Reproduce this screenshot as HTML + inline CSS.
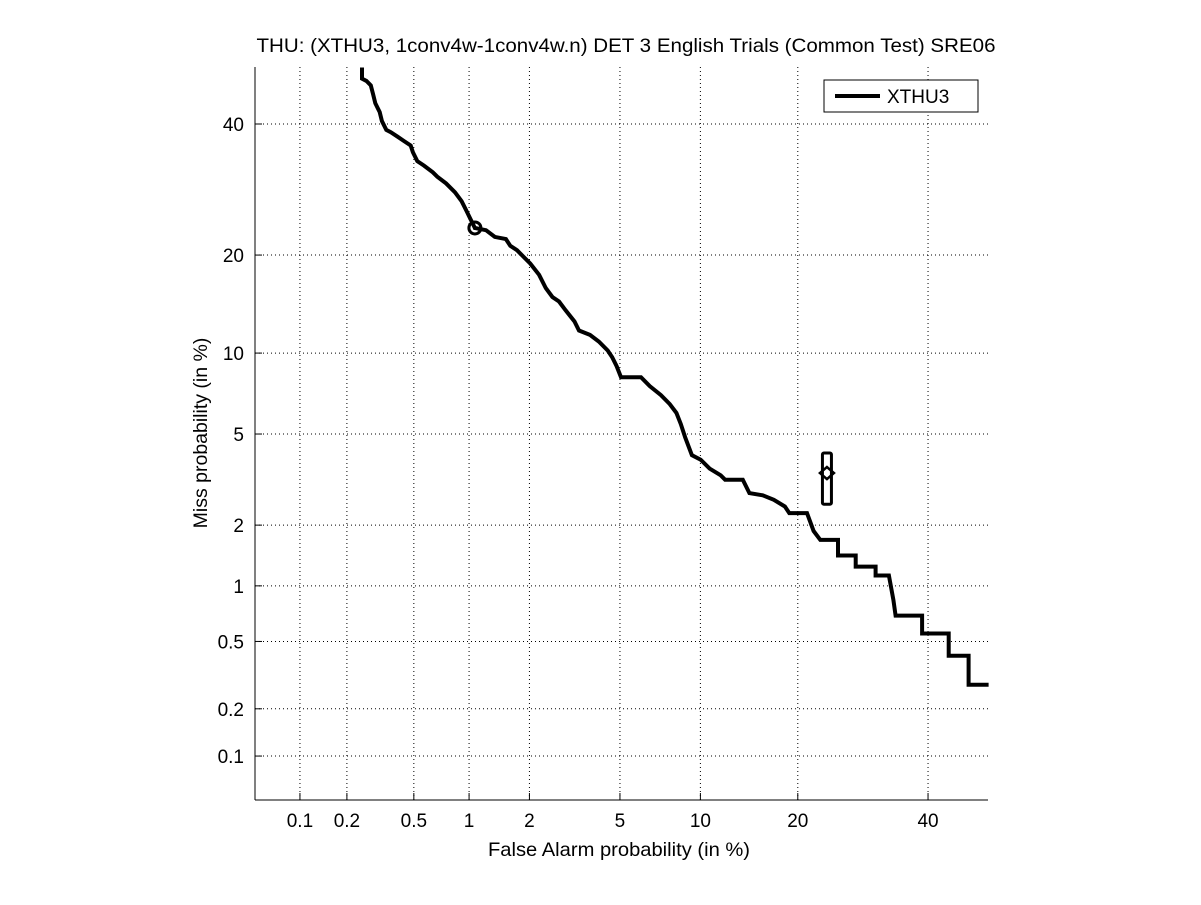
<!DOCTYPE html>
<html><head><meta charset="utf-8"><style>
body{margin:0;background:#fff;}
svg text{font-family:"Liberation Sans",Arial,sans-serif;}
</style></head><body>
<svg id="chart" width="1201" height="900" xmlns="http://www.w3.org/2000/svg">
<rect width="1201" height="900" fill="#fff"/>
<text x="626" y="52" font-size="19.5" text-anchor="middle" textLength="739" lengthAdjust="spacingAndGlyphs">THU: (XTHU3, 1conv4w-1conv4w.n) DET 3 English Trials (Common Test) SRE06</text>
<g id="grid"></g>
<g id="axes"></g>
<g id="series"></g>
<text x="619" y="856" font-size="19.5" text-anchor="middle" textLength="262" lengthAdjust="spacingAndGlyphs">False Alarm probability (in %)</text>
<text transform="translate(207,433) rotate(-90)" font-size="19.5" text-anchor="middle">Miss probability (in %)</text>
<g>
<rect x="824" y="80" width="154" height="32" fill="#fff" stroke="#000" stroke-width="1"/>
<line x1="835" y1="96" x2="880" y2="96" stroke="#000" stroke-width="4"/>
<text x="887" y="103" font-size="19">XTHU3</text>
</g>
</svg>
<script>
const xTickValues=[0.1,0.2,0.5,1,2,5,10,20,40];
const xTickLabels=["0.1","0.2","0.5","1","2","5","10","20","40"];
const yTickValues=[0.1,0.2,0.5,1,2,5,10,20,40];
const yTickLabels=["0.1","0.2","0.5","1","2","5","10","20","40"];
// curve in normal-deviate units (DET scale)
const faDeviate=[-2.81,-2.81,-2.79,-2.77,-2.76,-2.75,-2.73,-2.72,-2.70,-2.68,-2.65,-2.62,-2.59,-2.58,-2.56,-2.53,-2.49,-2.47,-2.43,-2.39,-2.36,-2.34,-2.32,-2.30,-2.25,-2.21,-2.16,-2.14,-2.11,-2.08,-2.05,-2.01,-1.98,-1.95,-1.92,-1.89,-1.85,-1.83,-1.78,-1.74,-1.70,-1.68,-1.66,-1.64,-1.55,-1.51,-1.46,-1.42,-1.39,-1.37,-1.35,-1.32,-1.28,-1.24,-1.19,-1.17,-1.09,-1.06,-1.00,-0.95,-0.90,-0.88,-0.80,-0.77,-0.74,-0.66,-0.66,-0.58,-0.58,-0.49,-0.49,-0.43,-0.41,-0.40,-0.28,-0.28,-0.16,-0.16,-0.07,-0.07,0.02];
const missDeviate=[0.00,-0.05,-0.06,-0.08,-0.12,-0.16,-0.20,-0.24,-0.28,-0.29,-0.31,-0.33,-0.35,-0.38,-0.42,-0.44,-0.47,-0.49,-0.52,-0.56,-0.60,-0.64,-0.68,-0.72,-0.73,-0.76,-0.77,-0.80,-0.82,-0.85,-0.88,-0.93,-0.99,-1.03,-1.05,-1.09,-1.14,-1.18,-1.20,-1.23,-1.27,-1.30,-1.34,-1.39,-1.39,-1.43,-1.47,-1.51,-1.55,-1.60,-1.66,-1.74,-1.76,-1.80,-1.83,-1.85,-1.85,-1.91,-1.92,-1.94,-1.97,-2.00,-2.00,-2.08,-2.12,-2.12,-2.19,-2.19,-2.24,-2.24,-2.28,-2.28,-2.39,-2.46,-2.46,-2.54,-2.54,-2.64,-2.64,-2.77,-2.77];
const minDcfPoint=[-2.30,-0.72];
const actDcfPoint=[-0.71,-1.82];
const actDcfRange=[-1.73,-1.96];

const NS="http://www.w3.org/2000/svg";
function probit(p){
  const a=[-39.69683028665376,220.9460984245205,-275.9285104469687,138.3577518672690,-30.66479806614716,2.506628277459239];
  const b=[-54.47609879822406,161.5858368580409,-155.6989798598866,66.80131188771972,-13.28068155288572];
  const c=[-0.007784894002430293,-0.3223964580411365,-2.400758277161838,-2.549732539343734,4.374664141464968,2.938163982698783];
  const d=[0.007784695709041462,0.3224671290700398,2.445134137142996,3.754408661907416];
  const pl=0.02425;let q,r;
  if(p<pl){q=Math.sqrt(-2*Math.log(p));return (((((c[0]*q+c[1])*q+c[2])*q+c[3])*q+c[4])*q+c[5])/((((d[0]*q+d[1])*q+d[2])*q+d[3])*q+1);}
  if(p>1-pl){q=Math.sqrt(-2*Math.log(1-p));return -(((((c[0]*q+c[1])*q+c[2])*q+c[3])*q+c[4])*q+c[5])/((((d[0]*q+d[1])*q+d[2])*q+d[3])*q+1);}
  q=p-0.5;r=q*q;return (((((a[0]*r+a[1])*r+a[2])*r+a[3])*r+a[4])*r+a[5])*q/(((((b[0]*r+b[1])*r+b[2])*r+b[3])*r+b[4])*r+1);
}
const L=255,R=988,T=67,B=800;
function X(z){return 300+(z+3.090)*221.4;}
function Y(z){return 756-(z+3.090)*222.8;}
function mk(tag,attrs,parent){const e=document.createElementNS(NS,tag);for(const k in attrs)e.setAttribute(k,attrs[k]);parent.appendChild(e);return e;}
const grid=document.getElementById('grid'),axes=document.getElementById('axes'),series=document.getElementById('series');
xTickValues.forEach((v,i)=>{
  const x=X(probit(v/100));
  const g=mk('line',{x1:x,y1:T,x2:x,y2:B,stroke:'#000','stroke-width':1,'stroke-dasharray':'1 3'},grid);
  
  
  const t=mk('line',{x1:x,y1:B,x2:x,y2:B-7,stroke:'#000'},axes);
  
  
  const lb=mk('text',{x:x,y:B+27,'font-size':19,'text-anchor':'middle'},axes);
  lb.textContent=xTickLabels[i];
  
  
});
yTickValues.forEach((v,i)=>{
  const y=Y(probit(v/100));
  const g=mk('line',{x1:L,y1:y,x2:R,y2:y,stroke:'#000','stroke-width':1,'stroke-dasharray':'1 3'},grid);
  
  
  const t=mk('line',{x1:L,y1:y,x2:L+7,y2:y,stroke:'#000'},axes);
  
  
  const lb=mk('text',{x:L-11,y:y+7,'font-size':19,'text-anchor':'end'},axes);
  lb.textContent=yTickLabels[i];
  
  
});
const ya=mk('line',{x1:L,y1:T,x2:L,y2:B,stroke:'#000'},axes);


const xa=mk('line',{x1:L,y1:B,x2:R,y2:B,stroke:'#000'},axes);


const pts=faDeviate.map((f,i)=>X(f).toFixed(1)+','+Y(missDeviate[i]).toFixed(1)).join(' ');
const pl=mk('polyline',{points:pts,fill:'none',stroke:'#000','stroke-width':4,'stroke-linejoin':'miter'},series);


const c1=mk('circle',{cx:X(minDcfPoint[0]),cy:Y(minDcfPoint[1]),r:6,fill:'none',stroke:'#000','stroke-width':3},series);


const c2=mk('circle',{cx:X(minDcfPoint[0]),cy:Y(minDcfPoint[1]),r:2,fill:'#000'},series);


const ax=X(actDcfPoint[0]),yt=Y(actDcfRange[0]),yb=Y(actDcfRange[1]);
const rr=mk('rect',{x:ax-4.5,y:yt,width:9,height:yb-yt,rx:1.5,fill:'none',stroke:'#000','stroke-width':3},series);


const ay=Y(actDcfPoint[1]);
const dm=mk('polygon',{points:`${ax-7},${ay} ${ax},${ay-6} ${ax+7},${ay} ${ax},${ay+6}`,fill:'none',stroke:'#000','stroke-width':2.5},series);


</script>
</body></html>
